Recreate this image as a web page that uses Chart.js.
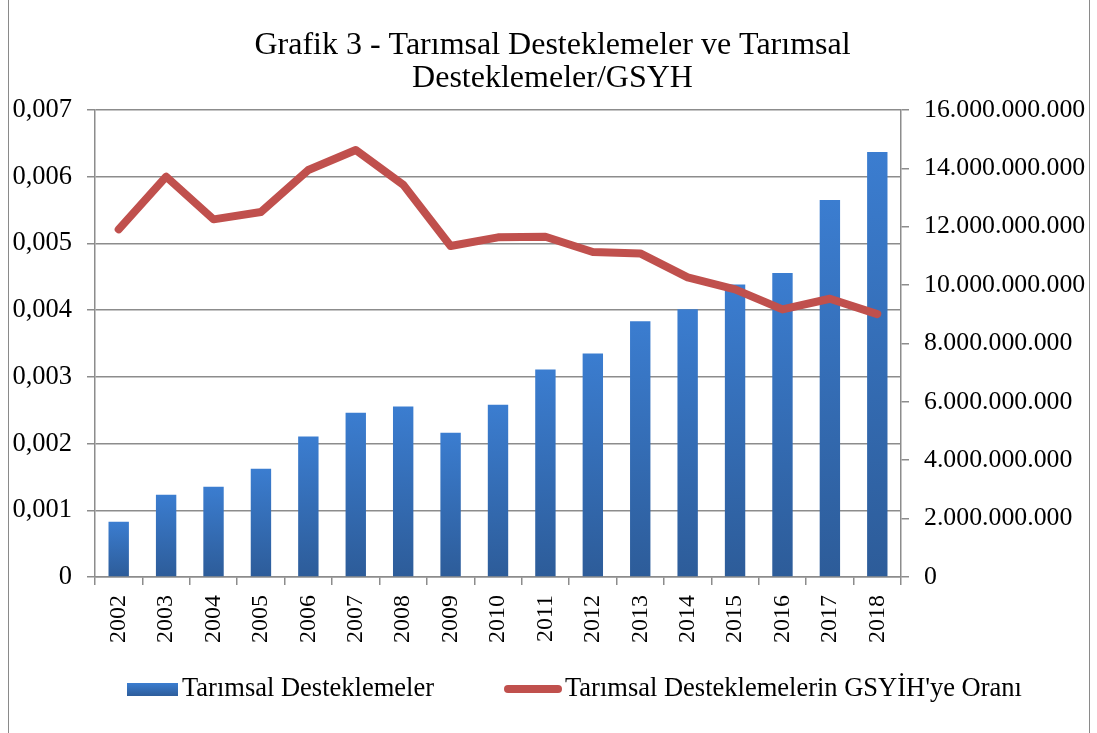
<!DOCTYPE html>
<html>
<head>
<meta charset="utf-8">
<script src="https://cdn.jsdelivr.net/npm/chart.js@4/dist/chart.umd.min.js"></script>
<style>
  body { margin:0; background:#fff; }
  .wrap { position:relative; width:1097px; height:733px; }
  .frame { position:absolute; left:8px; top:0; width:1082px; height:733px; border-left:1.5px solid #8a8a8a; border-right:1.5px solid #8a8a8a; box-sizing:border-box; pointer-events:none; }
  .legend { position:absolute; top:673px; left:0; font-family:'Liberation Serif','Times New Roman',serif; font-size:26.5px; color:#000; }
  .legend span { position:absolute; white-space:nowrap; }
  .box { position:absolute; left:127px; top:10px; width:51px; height:13px; background:linear-gradient(#3b7dd0,#2d5d9b); }
  .ln { position:absolute; left:504px; top:12px; width:58px; height:8px; border-radius:4px; background:#c0504d; }
</style>
</head>
<body>
<div class="wrap">
  <canvas id="c" width="1097" height="733"></canvas>
  <div class="frame"></div>
  <div class="legend">
    <div class="box"></div><span style="left:182px;top:-1px">Tarımsal Desteklemeler</span>
    <div class="ln"></div><span style="left:565px;top:-1px">Tarımsal Desteklemelerin GSYİH'ye Oranı</span>
  </div>
</div>
<script>
// values
const years = ['2002','2003','2004','2005','2006','2007','2008','2009','2010','2011','2012','2013','2014','2015','2016','2017','2018'];
const supports = [1.89e9,2.82e9,3.09e9,3.71e9,4.81e9,5.63e9,5.84e9,4.94e9,5.90e9,7.11e9,7.66e9,8.76e9,9.17e9,10.02e9,10.41e9,12.91e9,14.56e9];
const ratio = [0.00521,0.00600,0.00536,0.00547,0.00610,0.00640,0.00588,0.00496,0.00509,0.00510,0.00487,0.00485,0.00449,0.00431,0.00401,0.00417,0.00394];
const titleLines = ['Grafik 3 - Tarımsal Desteklemeler ve Tarımsal','Desteklemeler/GSYH'];

const serif = "'Liberation Serif','Times New Roman',serif";
const gridCol = '#8c8c8c';

function dots(v){ return String(Math.round(v)).replace(/\B(?=(\d{3})+(?!\d))/g,'.'); }

// each bar gets its own top-to-bottom gradient
function barFill(ctx){
    const chart = ctx.chart, sc = chart.scales && chart.scales.y2;
    if(!sc || ctx.raw==null) return '#3a78c6';
    const top = sc.getPixelForValue(ctx.raw), bot = sc.getPixelForValue(0);
    if(!isFinite(top) || !isFinite(bot) || top===bot) return '#3a78c6';
    const g = chart.ctx.createLinearGradient(0, top, 0, bot);
    g.addColorStop(0,'#3b7dd0');
    g.addColorStop(1,'#2d5c99');
    return g;
}

new Chart(document.getElementById('c'), {
    type:'bar',
    data:{
        labels: years,
        datasets:[
            {type:'line', label:"Tarımsal Desteklemelerin GSYİH'ye Oranı", data: ratio, yAxisID:'y',
             borderColor:'#c0504d', borderWidth:8, pointRadius:0, tension:0,
             borderJoinStyle:'round', borderCapStyle:'round', order:0},
            {type:'bar', label:'Tarımsal Desteklemeler', data: supports, yAxisID:'y2',
             backgroundColor: barFill, barPercentage:0.43, categoryPercentage:1, order:1}
        ]
    },
    options:{
        responsive:false, animation:false,
        layout:{padding:{left:8, right:0, top:0, bottom:81}},
        plugins:{
            legend:{display:false}, tooltip:{enabled:false},
            title:{display:true, text:titleLines, color:'#000',
                   font:{family:serif, size:32, weight:'normal', lineHeight:1.03},
                   padding:{top:29, bottom:15}}
        },
        scales:{
            x:{
                grid:{display:true, drawOnChartArea:false, drawTicks:true, tickLength:8, color:gridCol, lineWidth:1.5, offset:true},
                border:{color:gridCol, width:1.5},
                ticks:{color:'#000', font:{family:serif, size:24}, maxRotation:90, minRotation:90, padding:10},
                afterFit: s=>{ s.height = 75; }
            },
            y:{
                position:'left', min:0, max:0.007,
                grid:{color:gridCol, lineWidth:1.5, tickLength:8},
                border:{color:gridCol, width:1.5},
                ticks:{stepSize:0.001, color:'#000', font:{family:serif, size:26.5}, padding:15,
                       callback: v => v===0 ? '0' : v.toFixed(3).replace('.',',')},
                afterFit: s=>{ s.width = 87; }
            },
            y2:{
                position:'right', min:0, max:16e9,
                grid:{drawOnChartArea:false, color:gridCol, lineWidth:1.5, tickLength:8},
                border:{color:gridCol, width:1.5},
                ticks:{stepSize:2e9, color:'#000', font:{family:serif, size:25.8}, padding:15,
                       callback: v => dots(v)},
                afterFit: s=>{ s.width = 196; }
            }
        }
    }
});
</script>
</body>
</html>
